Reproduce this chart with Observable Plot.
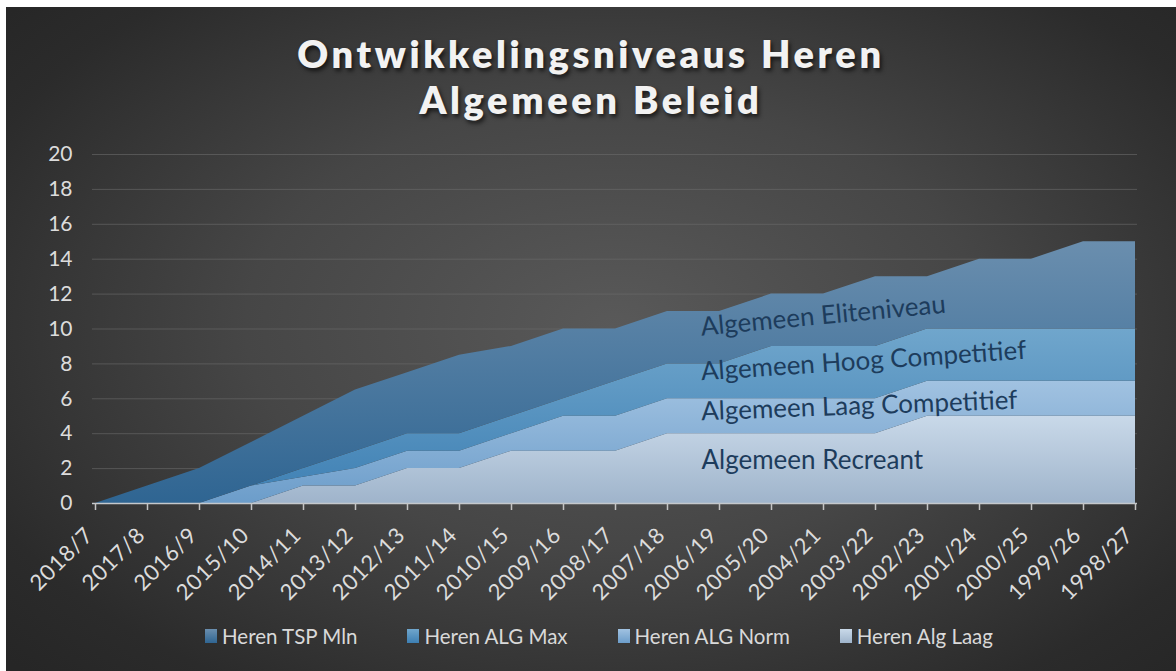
<!DOCTYPE html>
<html>
<head>
<meta charset="utf-8">
<script src="https://cdn.jsdelivr.net/npm/d3@7"></script>
<script src="https://cdn.jsdelivr.net/npm/@observablehq/plot@0.6"></script>
<style>
  html, body { margin: 0; padding: 0; background: #ffffff; }
  #frame { position: relative; width: 1176px; height: 671px; overflow: hidden; }
  #bg { position: absolute; left: 6px; top: 7px; right: 0; bottom: 0;
        background: radial-gradient(ellipse 70% 75% at 52% 48%, #595959 0%, #464646 45%, #2b2b2b 85%, #262626 100%); }
  #title { position: absolute; left: 6px; right: 0; top: 30px; text-align: center;
           font-family: Lato, sans-serif; font-weight: 800; font-size: 38px; line-height: 46px;
           letter-spacing: 3.6px; color: #f2f2f2; text-shadow: 2px 3px 4px rgba(0,0,0,0.65); }
  #chart { position: absolute; left: 0; top: 130px; }
  #chart svg g[aria-label="x-axis tick label"] text { letter-spacing: 0.8px; }
  #legend { position: absolute; left: 0; right: 0; top: 624px; display: flex; justify-content: center;
            gap: 50px; font-family: Lato, sans-serif; font-size: 20.5px; color: #d9d9d9; padding-left: 22px; }
  #legend .item { display: flex; align-items: center; gap: 5px; }
  #legend .sw { width: 12px; height: 14px; }
</style>
</head>
<body>
<div id="frame">
  <div id="bg"></div>
  <div id="title">Ontwikkelingsniveaus Heren<br>Algemeen Beleid</div>
  <div id="chart"></div>
  <div id="legend"></div>
</div>
<script>
// ---- data ----
const categories = ["2018/7","2017/8","2016/9","2015/10","2014/11","2013/12","2012/13","2011/14","2010/15","2009/16","2008/17","2007/18","2006/19","2005/20","2004/21","2003/22","2002/23","2001/24","2000/25","1999/26","1998/27"];
const seriesNames = ["Heren Alg Laag","Heren ALG Norm","Heren ALG Max","Heren TSP Mln"];
const algLaag = [0,0,0,0,1,1,2,2,3,3,3,4,4,4,4,4,5,5,5,5,5];
const algNorm = [0,0,0,1,0.5,1,1,1,1,2,2,2,2,2,2,2,2,2,2,2,2];
const algMax  = [0,0,0,0,0.5,1,1,1,1,1,2,2,2,3,3,3,3,3,3,3,3];
const tspMln  = [0,1,2,2.5,3,3.5,3.5,4.5,4,4,3,3,3,3,3,4,3,4,4,5,5];
const layerLabels = ["Algemeen Recreant","Algemeen Laag Competitief","Algemeen Hoog Competitief","Algemeen Eliteniveau"];
const legendOrder = ["Heren TSP Mln","Heren ALG Max","Heren ALG Norm","Heren Alg Laag"];
const yTicks = [0,2,4,6,8,10,12,14,16,18,20];

const seriesValues = [algLaag, algNorm, algMax, tspMln];
const table = seriesNames.flatMap((s, i) => categories.map((c, j) => ({cat: c, series: s, value: seriesValues[i][j]})));

// gradient colours per series (top, bottom)
const grad = {
  "Heren Alg Laag": ["#c9d9e9", "#9fb4cb", "gLaag"],
  "Heren ALG Norm": ["#a1c2e1", "#6c9dca", "gNorm"],
  "Heren ALG Max":  ["#70a6cc", "#3d7fb3", "gMax"],
  "Heren TSP Mln":  ["#6a8eae", "#2f6592", "gTsp"]
};

// label anchor: middle of each layer at "2006/19"
const labelCat = "2006/19";
const li = categories.indexOf(labelCat);
let cum = 0;
const mids = seriesValues.map(v => { const m = cum + v[li] / 2; cum += v[li]; return m; });
const rotations = [0, -2.1, -3.8, -5.4];
const dys = [0, 4, -1, -2];

const textMarks = layerLabels.map((lab, i) => Plot.text([lab], {
  x: () => "2007/18", y: () => mids[i], text: d => d, dx: 34, dy: dys[i],
  textAnchor: "start", lineAnchor: "bottom", rotate: rotations[i],
  fill: "#1d3c5c", fontSize: 26, fontFamily: "Lato, sans-serif"
}));

const plot = Plot.plot({
  width: 1176, height: 470,
  marginTop: 24, marginBottom: 97, marginLeft: 92, marginRight: 39,
  style: {background: "transparent", color: "#d9d9d9", fontFamily: "Lato, sans-serif", overflow: "visible"},
  x: {type: "point", domain: categories, padding: 0},
  y: {domain: [0, 20]},
  color: {domain: seriesNames, range: seriesNames.map(s => `url(#${grad[s][2]})`)},
  marks: [
    Plot.gridY(yTicks, {stroke: "#6a6a6a", strokeOpacity: 0.6, strokeWidth: 1}),
    Plot.areaY(table, {x: "cat", y: "value", fill: "series", curve: "linear"}),
    Plot.ruleY([0], {stroke: "#c4c8cc", strokeWidth: 1.5}),
    Plot.axisX({tickSize: 7, stroke: "#c4c4c4", strokeWidth: 1.5, strokeOpacity: 1, fill: "none", label: null}),
    Plot.axisX({tickRotate: -45, tickSize: 0, tickPadding: 16, dx: -6, dy: 12, label: null, fill: "#dcdcdc", fontSize: 22}),
    Plot.axisY({ticks: yTicks, tickSize: 0, tickPadding: 20, label: null, fill: "#dcdcdc", fontSize: 21}),
    ...textMarks
  ]
});

// add gradient definitions
const ys = plot.scale("y");
const svgNS = "http://www.w3.org/2000/svg";
const defs = document.createElementNS(svgNS, "defs");
const tops = {"Heren Alg Laag": 5, "Heren ALG Norm": 7, "Heren ALG Max": 10, "Heren TSP Mln": 15};
for (const s of seriesNames) {
  const g = document.createElementNS(svgNS, "linearGradient");
  g.setAttribute("id", grad[s][2]);
  g.setAttribute("gradientUnits", "userSpaceOnUse");
  g.setAttribute("x1", 0); g.setAttribute("x2", 0);
  g.setAttribute("y1", ys.apply(tops[s])); g.setAttribute("y2", ys.apply(0));
  const s1 = document.createElementNS(svgNS, "stop");
  s1.setAttribute("offset", "0"); s1.setAttribute("stop-color", grad[s][0]);
  const s2 = document.createElementNS(svgNS, "stop");
  s2.setAttribute("offset", "1"); s2.setAttribute("stop-color", grad[s][1]);
  g.appendChild(s1); g.appendChild(s2); defs.appendChild(g);
}
plot.insertBefore(defs, plot.firstChild);
document.getElementById("chart").appendChild(plot);

// legend
const legend = document.getElementById("legend");
for (const s of legendOrder) {
  const it = document.createElement("div"); it.className = "item";
  const sw = document.createElement("div"); sw.className = "sw";
  sw.style.background = `linear-gradient(${grad[s][0]}, ${grad[s][1]})`;
  const tx = document.createElement("span"); tx.textContent = s;
  it.appendChild(sw); it.appendChild(tx); legend.appendChild(it);
}
</script>
</body>
</html>
